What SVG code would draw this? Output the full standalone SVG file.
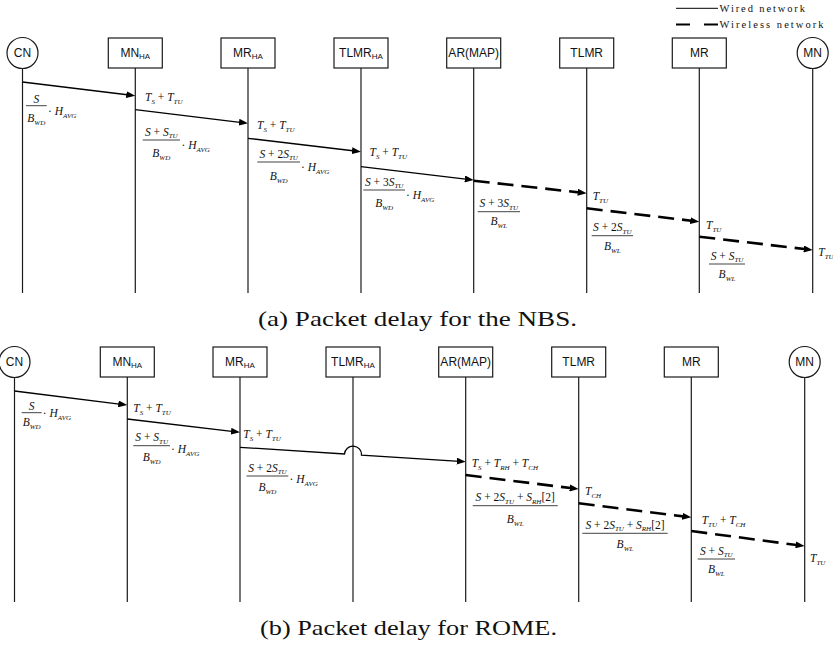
<svg xmlns="http://www.w3.org/2000/svg" width="833" height="646" viewBox="0 0 833 646">
<style>
.nb{fill:#fff;stroke:#1a1a1a;stroke-width:1.2}
.ll{stroke:#1a1a1a;stroke-width:1.2}
.nt{font-family:"Liberation Sans",Arial,sans-serif;font-size:12px;text-anchor:middle;fill:#111}
.ns{font-size:8px}
.w{stroke:#000;stroke-width:1.3;fill:none;marker-end:url(#ah)}
.wl{stroke:#000;stroke-width:2.6;fill:none;stroke-dasharray:16 8;marker-end:url(#ah)}
.m{font-family:"Liberation Serif","Times New Roman",serif;font-size:11.5px;font-style:italic;fill:#111}
.c{text-anchor:middle}
.n{font-style:normal}
.s{font-size:7px}
.fb{stroke:#111;stroke-width:0.8}
.cap{font-family:"Liberation Serif","Times New Roman",serif;font-size:22px;fill:#111}
.lg{font-family:"Liberation Serif","Times New Roman",serif;font-size:10.5px;fill:#111}
</style>
<defs>
<marker id="ah" markerUnits="userSpaceOnUse" markerWidth="9" markerHeight="7" refX="3" refY="3.5" orient="auto" viewBox="0 0 9 7"><path d="M0,0 L9,3.5 L0,7 z" fill="#000"/></marker>
</defs>

<g id="legend">
<line x1="676" y1="8.3" x2="718" y2="8.3" stroke="#000" stroke-width="1"/>
<text class="lg" x="719.5" y="11.5" textLength="85.5" lengthAdjust="spacing">Wired network</text>
<line x1="676" y1="24.5" x2="718" y2="24.5" stroke="#000" stroke-width="2.2" stroke-dasharray="14 14"/>
<text class="lg" x="719.5" y="28" textLength="104" lengthAdjust="spacing">Wireless network</text>
</g>

<!-- (a) nodes -->
<g id="a-CN" transform="translate(22.5,53)"><circle r="15.5" class="nb"/><text class="nt" y="4.3">CN</text><line class="ll" x1="0" y1="15.5" x2="0" y2="240"/></g>
<g id="a-MNHA" transform="translate(135.3,53)"><rect x="-27" y="-15" width="54" height="30" class="nb"/><text class="nt" y="4.3">MN<tspan class="ns" dy="2">HA</tspan></text><line class="ll" x1="0" y1="15" x2="0" y2="240"/></g>
<g id="a-MRHA" transform="translate(248,53)"><rect x="-27" y="-15" width="54" height="30" class="nb"/><text class="nt" y="4.3">MR<tspan class="ns" dy="2">HA</tspan></text><line class="ll" x1="0" y1="15" x2="0" y2="240"/></g>
<g id="a-TLMRHA" transform="translate(361,53)"><rect x="-27" y="-15" width="54" height="30" class="nb"/><text class="nt" y="4.3">TLMR<tspan class="ns" dy="2">HA</tspan></text><line class="ll" x1="0" y1="15" x2="0" y2="240"/></g>
<g id="a-AR" transform="translate(473.7,53)"><rect x="-27" y="-15" width="54" height="30" class="nb"/><text class="nt" y="4.3">AR(MAP)</text><line class="ll" x1="0" y1="15" x2="0" y2="240"/></g>
<g id="a-TLMR" transform="translate(586.7,53)"><rect x="-27" y="-15" width="54" height="30" class="nb"/><text class="nt" y="4.3">TLMR</text><line class="ll" x1="0" y1="15" x2="0" y2="240"/></g>
<g id="a-MR" transform="translate(699.3,53)"><rect x="-27" y="-15" width="54" height="30" class="nb"/><text class="nt" y="4.3">MR</text><line class="ll" x1="0" y1="15" x2="0" y2="240"/></g>
<g id="a-MN" transform="translate(812.7,53)"><circle r="15.5" class="nb"/><text class="nt" y="4.3">MN</text><line class="ll" x1="0" y1="15.5" x2="0" y2="240"/></g>

<!-- (b) nodes -->
<g id="b-CN" transform="translate(14.5,362)"><circle r="15.5" class="nb"/><text class="nt" y="4.3">CN</text><line class="ll" x1="0" y1="15.5" x2="0" y2="240"/></g>
<g id="b-MNHA" transform="translate(127.3,362)"><rect x="-27" y="-15" width="54" height="30" class="nb"/><text class="nt" y="4.3">MN<tspan class="ns" dy="2">HA</tspan></text><line class="ll" x1="0" y1="15" x2="0" y2="240"/></g>
<g id="b-MRHA" transform="translate(240,362)"><rect x="-27" y="-15" width="54" height="30" class="nb"/><text class="nt" y="4.3">MR<tspan class="ns" dy="2">HA</tspan></text><line class="ll" x1="0" y1="15" x2="0" y2="240"/></g>
<g id="b-TLMRHA" transform="translate(353,362)"><rect x="-27" y="-15" width="54" height="30" class="nb"/><text class="nt" y="4.3">TLMR<tspan class="ns" dy="2">HA</tspan></text><line class="ll" x1="0" y1="15" x2="0" y2="240"/></g>
<g id="b-AR" transform="translate(465.7,362)"><rect x="-27" y="-15" width="54" height="30" class="nb"/><text class="nt" y="4.3">AR(MAP)</text><line class="ll" x1="0" y1="15" x2="0" y2="240"/></g>
<g id="b-TLMR" transform="translate(578.7,362)"><rect x="-27" y="-15" width="54" height="30" class="nb"/><text class="nt" y="4.3">TLMR</text><line class="ll" x1="0" y1="15" x2="0" y2="240"/></g>
<g id="b-MR" transform="translate(691.3,362)"><rect x="-27" y="-15" width="54" height="30" class="nb"/><text class="nt" y="4.3">MR</text><line class="ll" x1="0" y1="15" x2="0" y2="240"/></g>
<g id="b-MN" transform="translate(804.7,362)"><circle r="15.5" class="nb"/><text class="nt" y="4.3">MN</text><line class="ll" x1="0" y1="15.5" x2="0" y2="240"/></g>

<g id="connectors">
<path class="w" d="M22.5,82 L129.3,95"/>
<path class="w" d="M135.3,109.7 L242,122.6"/>
<path class="w" d="M248,138.3 L355,151"/>
<path class="w" d="M361,166.7 L467.7,179.3"/>
<path class="wl" d="M473.7,180.7 L580.7,192.6"/>
<path class="wl" d="M586.7,208.3 L693.3,221"/>
<path class="wl" d="M699.3,236.7 L806.7,249.3"/>

<path class="w" d="M14.5,391 L121.3,404.3"/>
<path class="w" d="M127.3,419 L234,431.6"/>
<path class="w" d="M240,447.3 L344.5,454 A8.5,8.5 0 0 1 361.5,455.1 L459.7,461.3"/>
<path class="wl" d="M465.7,475 L572.7,488.3"/>
<path class="wl" d="M578.7,503.3 L685.3,516.6"/>
<path class="wl" d="M691.3,531 L798.7,545.3"/>
</g>

<g id="labels-a">
<text class="m" x="145" y="100.5">T<tspan class="s" dy="3">S</tspan><tspan class="n" dy="-3"> + </tspan>T<tspan class="s" dy="3">TU</tspan></text>
<text class="m" x="257" y="128.5">T<tspan class="s" dy="3">S</tspan><tspan class="n" dy="-3"> + </tspan>T<tspan class="s" dy="3">TU</tspan></text>
<text class="m" x="369.5" y="156">T<tspan class="s" dy="3">S</tspan><tspan class="n" dy="-3"> + </tspan>T<tspan class="s" dy="3">TU</tspan></text>
<text class="m" x="592.7" y="200">T<tspan class="s" dy="3">TU</tspan></text>
<text class="m" x="706" y="228.5">T<tspan class="s" dy="3">TU</tspan></text>
<text class="m" x="818.3" y="256">T<tspan class="s" dy="3">TU</tspan></text>

<line class="fb" x1="26" y1="105.7" x2="46.7" y2="105.7"/>
<text class="m c" x="36.3" y="102.5">S</text>
<text class="m c" x="36.3" y="121.5">B<tspan class="s" dy="3">WD</tspan></text>
<text class="m" x="48" y="114.5"><tspan class="n">· </tspan>H<tspan class="s" dy="3">AVG</tspan></text>

<line class="fb" x1="142.7" y1="140" x2="180" y2="140"/>
<text class="m c" x="161.3" y="135.5">S<tspan class="n"> + </tspan>S<tspan class="s" dy="2.5">TU</tspan></text>
<text class="m c" x="161.3" y="156.5">B<tspan class="s" dy="3">WD</tspan></text>
<text class="m" x="181.5" y="148.5"><tspan class="n">· </tspan>H<tspan class="s" dy="3">AVG</tspan></text>

<line class="fb" x1="257.3" y1="162" x2="300" y2="162"/>
<text class="m c" x="278.7" y="157.5">S<tspan class="n"> + 2</tspan>S<tspan class="s" dy="2.5">TU</tspan></text>
<text class="m c" x="278.7" y="179.5">B<tspan class="s" dy="3">WD</tspan></text>
<text class="m" x="301" y="171"><tspan class="n">· </tspan>H<tspan class="s" dy="3">AVG</tspan></text>

<line class="fb" x1="363.3" y1="190" x2="405" y2="190"/>
<text class="m c" x="384.2" y="185.5">S<tspan class="n"> + 3</tspan>S<tspan class="s" dy="2.5">TU</tspan></text>
<text class="m c" x="384.2" y="207">B<tspan class="s" dy="3">WD</tspan></text>
<text class="m" x="406" y="198.5"><tspan class="n">· </tspan>H<tspan class="s" dy="3">AVG</tspan></text>

<line class="fb" x1="477.7" y1="211.7" x2="520" y2="211.7"/>
<text class="m c" x="498.8" y="207.2">S<tspan class="n"> + 3</tspan>S<tspan class="s" dy="2.5">TU</tspan></text>
<text class="m c" x="498.8" y="225">B<tspan class="s" dy="3">WL</tspan></text>

<line class="fb" x1="591.7" y1="235.7" x2="633" y2="235.7"/>
<text class="m c" x="612.3" y="231.2">S<tspan class="n"> + 2</tspan>S<tspan class="s" dy="2.5">TU</tspan></text>
<text class="m c" x="612.3" y="249.5">B<tspan class="s" dy="3">WL</tspan></text>

<line class="fb" x1="709" y1="264" x2="745" y2="264"/>
<text class="m c" x="727" y="259.5">S<tspan class="n"> + </tspan>S<tspan class="s" dy="2.5">TU</tspan></text>
<text class="m c" x="727" y="278">B<tspan class="s" dy="3">WL</tspan></text>
</g>

<g id="labels-b">
<text class="m" x="133.3" y="412">T<tspan class="s" dy="3">S</tspan><tspan class="n" dy="-3"> + </tspan>T<tspan class="s" dy="3">TU</tspan></text>
<text class="m" x="243.3" y="437.5">T<tspan class="s" dy="3">S</tspan><tspan class="n" dy="-3"> + </tspan>T<tspan class="s" dy="3">TU</tspan></text>
<text class="m" x="471.7" y="467">T<tspan class="s" dy="3">S</tspan><tspan class="n" dy="-3"> + </tspan>T<tspan class="s" dy="3">RH</tspan><tspan class="n" dy="-3"> + </tspan>T<tspan class="s" dy="3">CH</tspan></text>
<text class="m" x="585" y="495">T<tspan class="s" dy="3">CH</tspan></text>
<text class="m" x="701.7" y="523.5">T<tspan class="s" dy="3">TU</tspan><tspan class="n" dy="-3"> + </tspan>T<tspan class="s" dy="3">CH</tspan></text>
<text class="m" x="810" y="562">T<tspan class="s" dy="3">TU</tspan></text>

<line class="fb" x1="21.7" y1="412.7" x2="41.7" y2="412.7"/>
<text class="m c" x="31.7" y="409.5">S</text>
<text class="m c" x="31.7" y="425.5">B<tspan class="s" dy="3">WD</tspan></text>
<text class="m" x="42.7" y="417"><tspan class="n">· </tspan>H<tspan class="s" dy="3">AVG</tspan></text>

<line class="fb" x1="133.3" y1="445.7" x2="170" y2="445.7"/>
<text class="m c" x="151.7" y="441.2">S<tspan class="n"> + </tspan>S<tspan class="s" dy="2.5">TU</tspan></text>
<text class="m c" x="151.7" y="461">B<tspan class="s" dy="3">WD</tspan></text>
<text class="m" x="171" y="453"><tspan class="n">· </tspan>H<tspan class="s" dy="3">AVG</tspan></text>

<line class="fb" x1="246.5" y1="476" x2="288.3" y2="476"/>
<text class="m c" x="267.4" y="471.5">S<tspan class="n"> + 2</tspan>S<tspan class="s" dy="2.5">TU</tspan></text>
<text class="m c" x="267.4" y="491">B<tspan class="s" dy="3">WD</tspan></text>
<text class="m" x="289.5" y="483"><tspan class="n">· </tspan>H<tspan class="s" dy="3">AVG</tspan></text>

<line class="fb" x1="472.7" y1="505.7" x2="557.7" y2="505.7"/>
<text class="m c" x="515.2" y="501.2">S<tspan class="n"> + 2</tspan>S<tspan class="s" dy="2.5">TU</tspan><tspan class="n" dy="-2.5"> + </tspan>S<tspan class="s" dy="2.5">RH</tspan><tspan class="n" dy="-2.5">[2]</tspan></text>
<text class="m c" x="515.2" y="522.5">B<tspan class="s" dy="3">WL</tspan></text>

<line class="fb" x1="582.3" y1="533.3" x2="667.7" y2="533.3"/>
<text class="m c" x="625" y="528.8">S<tspan class="n"> + 2</tspan>S<tspan class="s" dy="2.5">TU</tspan><tspan class="n" dy="-2.5"> + </tspan>S<tspan class="s" dy="2.5">RH</tspan><tspan class="n" dy="-2.5">[2]</tspan></text>
<text class="m c" x="625" y="547.7">B<tspan class="s" dy="3">WL</tspan></text>

<line class="fb" x1="697.7" y1="559" x2="735" y2="559"/>
<text class="m c" x="716.3" y="554.5">S<tspan class="n"> + </tspan>S<tspan class="s" dy="2.5">TU</tspan></text>
<text class="m c" x="716.3" y="573.3">B<tspan class="s" dy="3">WL</tspan></text>
</g>

<text class="cap" x="258" y="326" textLength="319" lengthAdjust="spacingAndGlyphs">(a) Packet delay for the NBS.</text>
<text class="cap" x="260" y="635" textLength="297" lengthAdjust="spacingAndGlyphs">(b) Packet delay for ROME.</text>
</svg>
